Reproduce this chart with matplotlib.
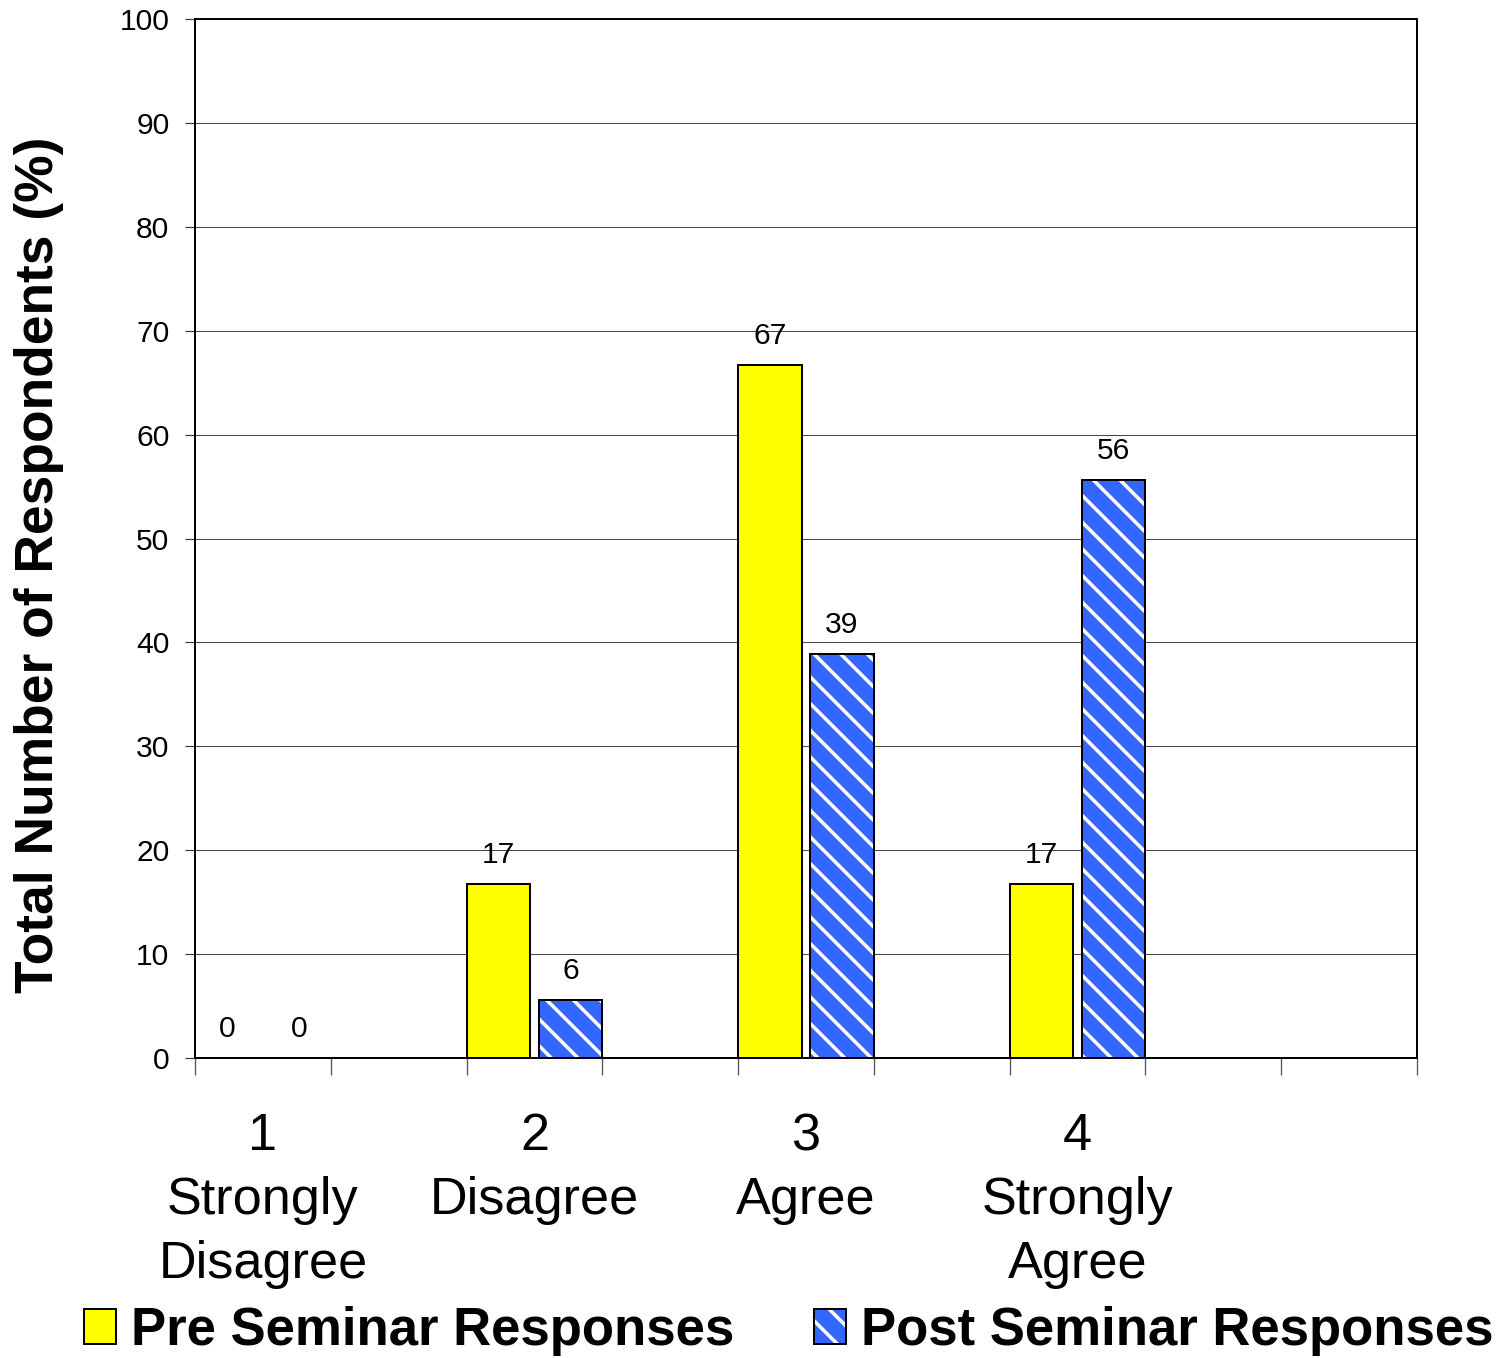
import matplotlib
matplotlib.use("Agg")
import matplotlib.pyplot as plt
from matplotlib.legend_handler import HandlerTuple

plt.rcParams['font.family'] = ['Liberation Sans', 'DejaVu Sans']
plt.rcParams['hatch.linewidth'] = 3.2

# survey data (percent of respondents)
categories = ["1\nStrongly\nDisagree", "2\nDisagree", "3\nAgree", "4\nStrongly\nAgree"]
slots = [0, 2, 4, 6]          # Excel category slot of each group (9 slots in total)
n_slots = 9
pre = [0, 16.7, 66.7, 16.7]
post = [0, 5.6, 38.9, 55.6]
yticks = list(range(0, 101, 10))

yellow = '#FFFF00'
blue = '#3366FF'
w = 0.47

fig = plt.figure(figsize=(1505 / 80, 1358 / 80), dpi=80)
ax = fig.add_axes([195 / 1505, 300 / 1358, 1222 / 1505, 1039 / 1358])

x_pre = [s + w / 2 for s in slots]
x_post = [s + 1 - w / 2 for s in slots]

b_pre = ax.bar(x_pre, pre, width=w, color=yellow, edgecolor='black', linewidth=1.8, zorder=3)
b_post_h = ax.bar(x_post, post, width=w, color=blue, edgecolor='white', hatch='\\',
                  linewidth=0, zorder=3)
b_post = ax.bar(x_post, post, width=w, fill=False, edgecolor='black', linewidth=1.8, zorder=4)

ax.bar_label(b_pre, fmt='{:.0f}', padding=13.5, fontsize=27)
ax.bar_label(b_post, fmt='{:.0f}', padding=13.5, fontsize=27)

ax.set_xlim(0, n_slots)
ax.set_ylim(0, 100)
ax.set_yticks(yticks)
ax.tick_params(axis='y', labelsize=27, length=9, width=1, pad=14, color='#333333')

ax.set_xticks(range(n_slots + 1))
ax.set_xticklabels([])
ax.tick_params(axis='x', which='major', length=15, width=1.2, color='#555555')
ax.set_xticks([s + 0.5 for s in slots], minor=True)
ax.set_xticklabels(categories, minor=True, fontsize=47, linespacing=1.39)
ax.tick_params(axis='x', which='minor', length=0, pad=49)

ax.grid(axis='y', color='#444444', linewidth=0.9)
ax.set_axisbelow(True)
for sp in ax.spines.values():
    sp.set_linewidth(1.8)
    sp.set_color('black')

ax.set_ylabel("Total Number of Respondents (%)", fontsize=48, fontweight='bold')
ax.yaxis.set_label_coords(-0.107, 0.4745)

fig.legend([b_pre, (b_post_h, b_post)], ["Pre Seminar Responses", "Post Seminar Responses"],
           handler_map={tuple: HandlerTuple(ndivide=1)},
           loc='center', bbox_to_anchor=(0.524, 0.020), ncol=2, frameon=False,
           prop={'size': 47.5, 'weight': 'bold'}, handlelength=0.62, handleheight=0.63,
           handletextpad=0.28, columnspacing=1.5, borderpad=0, borderaxespad=0)

fig.savefig("out.png", dpi=80)
